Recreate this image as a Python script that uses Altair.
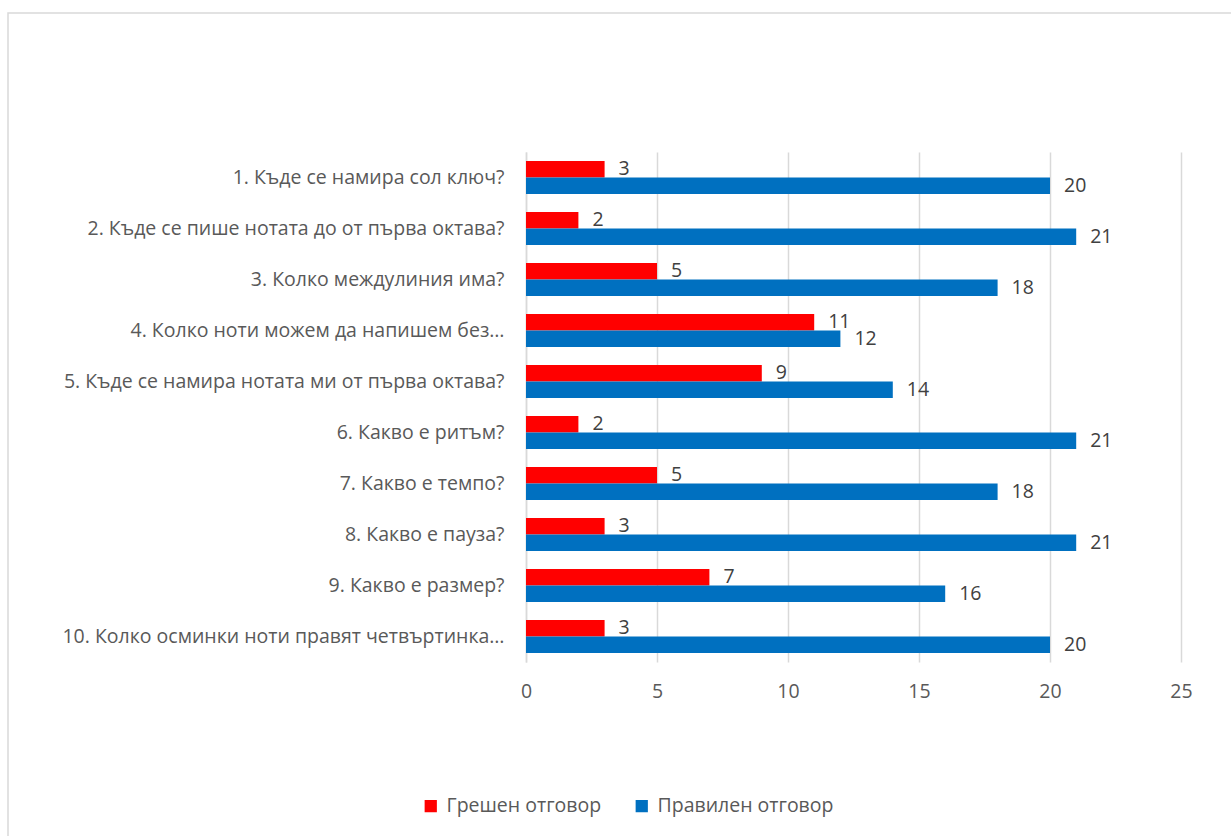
import altair as alt
import pandas as pd

questions = [
    "1. Къде се намира сол ключ?",
    "2. Къде се пише нотата до от първа октава?",
    "3. Колко междулиния има?",
    "4. Колко ноти можем да напишем без…",
    "5. Къде се намира нотата ми от първа октава?",
    "6. Какво е ритъм?",
    "7. Какво е темпо?",
    "8. Какво е пауза?",
    "9. Какво е размер?",
    "10. Колко осминки ноти правят четвъртинка…",
]
series = ["Грешен отговор", "Правилен отговор"]
wrong = [3, 2, 5, 11, 9, 2, 5, 3, 7, 3]
correct = [20, 21, 18, 12, 14, 21, 18, 21, 16, 20]
colors = ["#FF0000", "#0070C0"]

rows = []
for q, w, c in zip(questions, wrong, correct):
    rows.append({"q": q, "s": series[0], "v": w, "o": 0})
    rows.append({"q": q, "s": series[1], "v": c, "o": 1})
df = pd.DataFrame(rows)

FONT = "Open Sans"
TXT = "#595959"
FS = 19.5

y_enc = alt.Y("q:N", sort=questions, title=None,
              scale=alt.Scale(paddingInner=0.35, paddingOuter=0.175),
              axis=alt.Axis(labelFont=FONT, labelFontSize=FS, labelColor=TXT,
                            labelPadding=22, labelLimit=500, ticks=False,
                            domain=True, domainColor="#D9D9D9", domainWidth=1.5,
                            grid=False))
x_enc = alt.X("v:Q", title=None,
              scale=alt.Scale(domain=[0, 25], nice=False),
              axis=alt.Axis(values=[0, 5, 10, 15, 20, 25], labelFont=FONT,
                            labelFontSize=FS, labelColor=TXT, labelPadding=20,
                            labelFlush=False,
                            ticks=False, domain=False, grid=True,
                            gridColor="#D9D9D9", gridWidth=1.5))

base = alt.Chart(df)

bars = base.mark_bar().encode(
    y=y_enc,
    yOffset=alt.YOffset("o:O"),
    x=x_enc,
    color=alt.Color("s:N", sort=series,
                    scale=alt.Scale(domain=series, range=colors),
                    legend=alt.Legend(title=None, orient="none", direction="horizontal",
                                      legendX=-105, legendY=644,
                                      symbolType="square", symbolSize=150,
                                      symbolStrokeWidth=0,
                                      labelFont=FONT, labelFontSize=FS,
                                      labelColor=TXT, labelOffset=6,
                                      labelLimit=400,
                                      columnPadding=30)),
)

labels = base.mark_text(align="left", baseline="middle", dx=14,
                        font=FONT, fontSize=FS, color="#404040").encode(
    y=alt.Y("q:N", sort=questions),
    yOffset=alt.YOffset("o:O"),
    x=alt.X("v:Q"),
    text=alt.Text("v:Q"),
)

border = alt.Chart(pd.DataFrame({"a": [0]})).mark_rect(
    fill=None, stroke="#D9D9D9", strokeWidth=1.5
).encode(
    x=alt.value(-518), x2=alt.value(720),
    y=alt.value(-139), y2=alt.value(720),
)

chart = alt.layer(border, bars, labels).properties(
    width=655, height=510,
    padding={"left": 526, "top": 152, "right": 50, "bottom": 174},
    autosize=alt.AutoSizeParams(type="none"),
    background="white",
).configure_view(stroke=None)

chart.save("out.html", embed_options={"renderer": "svg", "actions": False})
